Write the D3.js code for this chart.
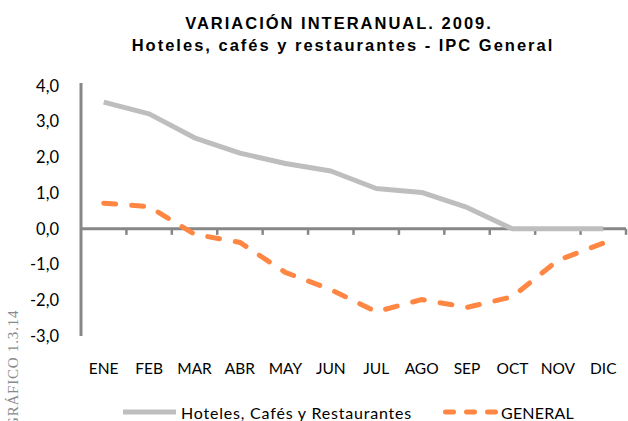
<!DOCTYPE html>
<html>
<head>
<meta charset="utf-8">
<script src="https://cdn.jsdelivr.net/npm/d3@7"></script>
<style>
  body { margin: 0; background: #fff; }
  text { font-family: Lato, "Liberation Sans", sans-serif; }
</style>
</head>
<body>
<div id="chart"></div>
<script>
const WIDTH = 628;
const HEIGHT = 421;

const MONTHS = ["ENE", "FEB", "MAR", "ABR", "MAY", "JUN", "JUL", "AGO", "SEP", "OCT", "NOV", "DIC"];
const HOTELES = [3.55, 3.22, 2.55, 2.12, 1.83, 1.62, 1.13, 1.02, 0.60, 0.0, 0.0, 0.0];
const GENERAL = [0.72, 0.62, -0.15, -0.38, -1.22, -1.70, -2.32, -1.98, -2.20, -1.90, -0.88, -0.40];
const Y_TICKS = [4, 3, 2, 1, 0, -1, -2, -3];
const TITLE = ["VARIACIÓN INTERANUAL. 2009.", "Hoteles, cafés y restaurantes - IPC General"];

const X_LEFT = 81;
const X_RIGHT = 626;
const Y_TOP = 86;
const Y_BOTTOM = 336;

const svg = d3.select("#chart").append("svg")
  .attr("width", WIDTH).attr("height", HEIGHT);

const x = d3.scaleBand().domain(MONTHS).range([X_LEFT, X_RIGHT]);
const y = d3.scaleLinear().domain([-3, 4]).range([Y_BOTTOM, Y_TOP]);

// title
svg.selectAll(".title").data(TITLE).enter()
  .append("text")
  .attr("x", (d, i) => i === 0 ? 339 : 343)
  .attr("y", (d, i) => i === 0 ? 29 : 51)
  .attr("text-anchor", "middle")
  .style("font-family", "'Liberation Sans', Arial, sans-serif")
  .style("font-weight", "bold")
  .style("font-size", "16.5px")
  .style("letter-spacing", "2px")
  .text(d => d);

// y axis
const yAxis = svg.append("g")
  .attr("transform", `translate(${X_LEFT},0)`)
  .call(d3.axisLeft(y).tickValues(Y_TICKS).tickSize(0).tickPadding(22)
    .tickFormat(d => d3.format(".1f")(d).replace(".", ",").replace("−", "-")));
yAxis.select(".domain").attr("stroke", "#878787").attr("stroke-width", 3)
  .attr("d", `M0,${Y_TOP - 3}V${Y_BOTTOM}`);
yAxis.selectAll("text").style("font-size", "16.5px").attr("fill", "#000");

// x axis at zero
const xAxis = svg.append("g")
  .attr("transform", `translate(0,${y(0)})`)
  .call(d3.axisBottom(x).tickSize(0).tickFormat(""));
xAxis.select(".domain").attr("stroke", "#878787").attr("stroke-width", 3)
  .attr("d", `M${X_LEFT},0H${X_RIGHT}`);
xAxis.selectAll(".tickmark").data(d3.range(1, MONTHS.length + 1)).enter()
  .append("line")
  .attr("class", "tickmark")
  .attr("x1", i => X_LEFT + i * x.step())
  .attr("x2", i => X_LEFT + i * x.step())
  .attr("y1", 0).attr("y2", 6)
  .attr("stroke", "#878787").attr("stroke-width", 2.5);

// month labels below the plot
svg.selectAll(".month").data(MONTHS).enter()
  .append("text")
  .attr("x", d => x(d) + x.bandwidth() / 2)
  .attr("y", 374)
  .attr("text-anchor", "middle")
  .style("font-size", "15.5px")
  .text(d => d);

// lines
const line = d3.line()
  .x((d, i) => x(MONTHS[i]) + x.bandwidth() / 2)
  .y(d => y(d));

svg.append("path").datum(HOTELES)
  .attr("d", line)
  .attr("fill", "none")
  .attr("stroke", "#BEBEBE")
  .attr("stroke-width", 5)
  .attr("stroke-linejoin", "round");

svg.append("path").datum(GENERAL)
  .attr("d", line)
  .attr("fill", "none")
  .attr("stroke", "#FF8743")
  .attr("stroke-width", 5)
  .attr("stroke-linecap", "round")
  .attr("stroke-dasharray", "12,16");

// legend
const legend = svg.append("g");
legend.append("line")
  .attr("x1", 123).attr("x2", 176).attr("y1", 412).attr("y2", 412)
  .attr("stroke", "#BEBEBE").attr("stroke-width", 5);
legend.append("text").attr("x", 181).attr("y", 419)
  .style("font-size", "16px").style("letter-spacing", "0.8px")
  .text("Hoteles, Cafés y Restaurantes");
legend.append("line")
  .attr("x1", 445.5).attr("x2", 496).attr("y1", 412).attr("y2", 412)
  .attr("stroke", "#FF8743").attr("stroke-width", 5)
  .attr("stroke-linecap", "round")
  .attr("stroke-dasharray", "8,13");
legend.append("text").attr("x", 501).attr("y", 419)
  .style("font-size", "16px").style("letter-spacing", "0.2px")
  .text("GENERAL");

// side label
svg.append("text")
  .attr("transform", "translate(18,428) rotate(-90)")
  .style("font-family", "'Liberation Serif', serif")
  .style("font-size", "15px")
  .attr("fill", "#8a8a8a")
  .style("letter-spacing", "0.8px")
  .text("GRÁFICO 1.3.14");
</script>
</body>
</html>
